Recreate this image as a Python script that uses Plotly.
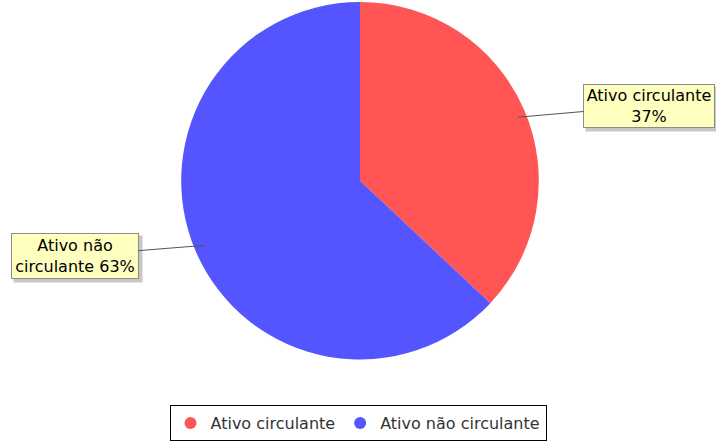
import plotly.graph_objects as go

categories = ["Ativo circulante", "Ativo não circulante"]
values = [37, 63]
colors = ["#FF5555", "#5555FF"]
label_texts = ["Ativo circulante<br>37%", "Ativo não<br>circulante 63%"]

FONT = "DejaVu Sans, Verdana, sans-serif"

fig = go.Figure()

fig.add_trace(
    go.Pie(
        labels=categories,
        values=values,
        marker=dict(colors=colors, line=dict(width=0)),
        sort=False,
        direction="clockwise",
        rotation=0,
        textinfo="none",
        hoverinfo="label+percent",
        showlegend=False,
        domain=dict(x=[0.2514, 0.7542], y=[0.1791, 0.9955]),
    )
)

# legend entries with round markers, like the original
for name, color in zip(categories, colors):
    fig.add_trace(
        go.Scatter(
            x=[None],
            y=[None],
            mode="markers",
            name=name,
            marker=dict(symbol="circle", size=12, color=color),
        )
    )

# callout labels: arrow head on the slice, box centre at (ax, ay)
callouts = [
    dict(x=0.7235, y=0.7324, ax=0.9064, ay=0.7585, w=126, h=38),
    dict(x=0.2863, y=0.4399, ax=0.1041, ay=0.4161, w=122, h=40),
]
for text, c in zip(label_texts, callouts):
    # drop shadow (empty box behind the label)
    fig.add_annotation(
        x=c["ax"],
        y=c["ay"],
        xref="x domain",
        yref="y domain",
        xanchor="center",
        yanchor="middle",
        xshift=3,
        yshift=-3,
        text=" ",
        width=c["w"],
        height=c["h"],
        showarrow=False,
        bgcolor="#C8C8C8",
        borderpad=3,
    )
    fig.add_annotation(
        x=c["x"],
        y=c["y"],
        xref="x domain",
        yref="y domain",
        ax=c["ax"],
        ay=c["ay"],
        axref="x domain",
        ayref="y domain",
        text=text,
        width=c["w"],
        height=c["h"],
        showarrow=True,
        arrowhead=0,
        arrowwidth=1,
        arrowcolor="#555555",
        bgcolor="#FFFFC0",
        bordercolor="#8C8C8C",
        borderwidth=1,
        borderpad=2,
        font=dict(family=FONT, size=16, color="#000000"),
    )

fig.update_layout(
    width=716,
    height=441,
    margin=dict(l=0, r=0, t=0, b=0),
    paper_bgcolor="white",
    plot_bgcolor="white",
    font=dict(family=FONT, size=16, color="#333333"),
    xaxis=dict(visible=False),
    yaxis=dict(visible=False),
    legend=dict(
        orientation="h",
        x=0.5,
        xanchor="center",
        y=0.075,
        yanchor="top",
        bordercolor="#000000",
        borderwidth=1,
        bgcolor="white",
        itemwidth=30,
        font=dict(family=FONT, size=16, color="#333333"),
    ),
)

fig.write_html(
    "out.html",
    config={"displayModeBar": False},
    post_script="document.body.style.margin='0';",
)
